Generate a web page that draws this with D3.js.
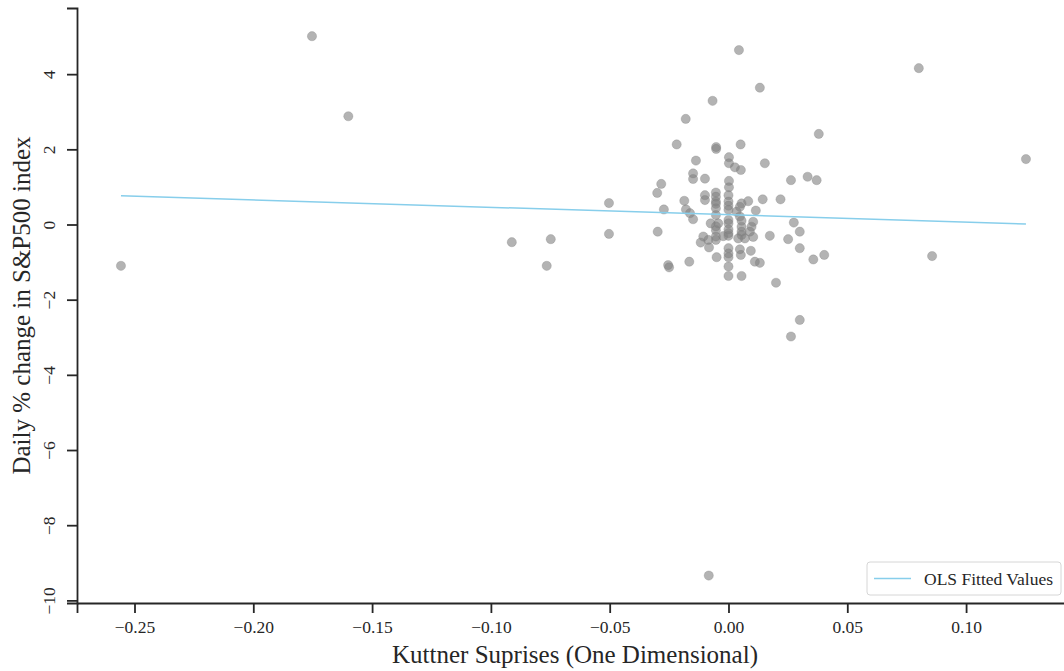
<!DOCTYPE html>
<html lang="en">

<head>
  <title>Kuttner surprises vs S&P500</title>
  <meta charset="UTF-8">
  <script src='https://cdn.jsdelivr.net/npm/d3@7/dist/d3.min.js'></script>
  <style>
    body { margin: 0; background: #fff; }
    svg { display: block; font-family: 'Liberation Serif', 'Times New Roman', serif; }
  </style>
</head>

<body>
  <div id='box'></div>
  <script>
    const width = 1064
    const height = 671
    // plot area (the right edge is cut off by the picture, like the original)
    const area = { left: 77, right: 1073, top: 8, bottom: 603 }

    // data: Kuttner surprise (x) and daily % change in S&P500 (y)
    const kuttner = [
      -0.2557, -0.1753, -0.160, -0.0912, -0.0748, -0.0765, -0.0503, -0.0503, -0.0083, 0.0044, 0.0801, 0.0857, 0.1252,
      0.0132, -0.0067, -0.018, 0.038, -0.0218, -0.0052, -0.0052, 0.0051, -0.0137, 0.0002,
      0.0002, 0.0027, 0.0052, 0.0153, -0.0149, -0.0149, -0.0099, 0.0002, 0.0002, 0.0263,
      0.0333, 0.0371, -0.0283, -0.030, -0.0053, -0.0053, -0.0053, -0.0099, -0.0099, 0.0,
      0.0, 0.0055, 0.0048, 0.0083, 0.0144, 0.0219, -0.0186, -0.0179, -0.0162, -0.0149,
      -0.0272, -0.0053, -0.0053, 0.0, 0.0, 0.0, 0.0034, 0.0048, 0.0115, -0.0075,
      -0.0043, -0.0053, -0.0053, -0.0053, 0.0, 0.0, 0.0055, 0.0055, 0.0055, 0.0104,
      0.0097, 0.009, 0.0275, 0.030, -0.0298, 0.0174, 0.0251, -0.0106, -0.0085, -0.0117,
      -0.0082, -0.0022, 0.0041, 0.0069, 0.0104, 0.030, 0.0, 0.0, 0.0, 0.0048,
      0.0052, 0.0094, -0.005, -0.0165, -0.0254, -0.025, 0.0111, 0.0132, 0.0357, 0.0403,
      0.0, 0.0, 0.0055, 0.020, 0.030, 0.0263,
      -0.0053, 0.0, 0.0055, -0.0053, 0.0
    ]
    const spChange = [
      -1.10, 5.01, 2.88, -0.47, -0.39, -1.10, 0.57, -0.25, -9.34, 4.64, 4.16, -0.84, 1.74,
      3.64, 3.29, 2.81, 2.41, 2.13, 2.06, 2.01, 2.13, 1.70, 1.79,
      1.63, 1.52, 1.45, 1.63, 1.36, 1.21, 1.22, 1.16, 0.99, 1.18,
      1.27, 1.18, 1.08, 0.84, 0.85, 0.74, 0.61, 0.78, 0.65, 0.78,
      0.61, 0.56, 0.47, 0.62, 0.67, 0.67, 0.63, 0.40, 0.30, 0.14,
      0.40, 0.43, 0.25, 0.39, 0.12, 0.03, 0.34, 0.21, 0.37, 0.03,
      0.03, -0.15, -0.32, -0.41, -0.13, -0.23, -0.06, -0.19, -0.28, 0.07,
      -0.06, -0.19, 0.05, -0.19, -0.19, -0.30, -0.39, -0.32, -0.41, -0.48,
      -0.61, -0.31, -0.37, -0.37, -0.33, -0.63, -0.63, -0.77, -0.87, -0.66,
      -0.81, -0.70, -0.87, -0.99, -1.08, -1.14, -0.99, -1.02, -0.93, -0.81,
      -1.12, -1.37, -1.37, -1.55, -2.54, -2.98,
      0.55, 0.50, 0.10, -0.05, -0.30
    ]

    // OLS fit
    const olsIntercept = 0.26
    const olsSlope = -1.97

    // tick values
    const xTicks = [-0.25, -0.20, -0.15, -0.10, -0.05, 0.00, 0.05, 0.10]
    const yTicks = [-10, -8, -6, -4, -2, 0, 2, 4]

    const svg = d3.select('#box').append('svg')
      .attr('width', width)
      .attr('height', height)

    const xScale = d3.scaleLinear().domain([-0.2742, 0.145]).range([area.left, area.right])
    const yScale = d3.scaleLinear().domain([-10.07, 5.76]).range([area.bottom, area.top])

    // scatter points
    const points = kuttner.map((k, i) => ({ x: k, y: spChange[i] }))
    svg.append('g')
      .selectAll('circle')
      .data(points)
      .join('circle')
      .attr('cx', d => xScale(d.x))
      .attr('cy', d => yScale(d.y))
      .attr('r', 4.6)
      .attr('fill', '#808080')
      .attr('fill-opacity', 0.6)
      .attr('stroke', '#808080')
      .attr('stroke-opacity', 0.6)
      .attr('stroke-width', 0.5)

    // fitted line across the range of the data
    const xExtent = d3.extent(kuttner)
    const fitted = xExtent.map(x => ({ x, y: olsIntercept + olsSlope * x }))
    svg.append('path')
      .datum(fitted)
      .attr('fill', 'none')
      .attr('stroke', '#87ceeb')
      .attr('stroke-width', 1.5)
      .attr('d', d3.line().x(d => xScale(d.x)).y(d => yScale(d.y)))

    // x axis
    const xAxis = d3.axisBottom(xScale)
      .tickValues(xTicks)
      .tickFormat(d3.format('.2f'))
      .tickSize(10)
      .tickPadding(8)
    const gx = svg.append('g')
      .attr('transform', `translate(0,${area.bottom})`)
      .call(xAxis)
    gx.select('.domain').attr('stroke', '#262626').attr('stroke-width', 1.8)
    gx.selectAll('.tick line').attr('stroke', '#262626').attr('stroke-width', 1.8)
    gx.selectAll('.tick text')
      .attr('font-family', 'Liberation Serif')
      .attr('font-size', 17.5)
      .attr('fill', '#262626')

    // y axis, labels turned on their side
    const yAxis = d3.axisLeft(yScale)
      .tickValues(yTicks)
      .tickFormat(d3.format('d'))
      .tickSize(10)
    const gy = svg.append('g')
      .attr('transform', `translate(${area.left},0)`)
      .call(yAxis)
    gy.select('.domain').attr('stroke', '#262626').attr('stroke-width', 1.8)
    gy.selectAll('.tick line').attr('stroke', '#262626').attr('stroke-width', 1.8)
    gy.selectAll('.tick text')
      .attr('x', null)
      .attr('dy', null)
      .attr('text-anchor', 'middle')
      .attr('transform', 'translate(-22,0) rotate(-90)')
      .attr('font-family', 'Liberation Serif')
      .attr('font-size', 17.5)
      .attr('fill', '#262626')

    // axis titles
    svg.append('text')
      .attr('x', (area.left + area.right) / 2)
      .attr('y', 663)
      .attr('text-anchor', 'middle')
      .attr('font-size', 25)
      .attr('fill', '#262626')
      .text('Kuttner Suprises (One Dimensional)')

    svg.append('text')
      .attr('transform', `translate(30,${(area.top + area.bottom) / 2}) rotate(-90)`)
      .attr('text-anchor', 'middle')
      .attr('font-size', 25)
      .attr('fill', '#262626')
      .text('Daily % change in S&P500 index')

    // legend, lower right
    const legend = svg.append('g').attr('transform', 'translate(867,562)')
    legend.append('rect')
      .attr('width', 194)
      .attr('height', 33)
      .attr('rx', 3)
      .attr('fill', '#fff')
      .attr('fill-opacity', 0.8)
      .attr('stroke', '#d6d6d6')
    legend.append('line')
      .attr('x1', 7).attr('x2', 44)
      .attr('y1', 16.5).attr('y2', 16.5)
      .attr('stroke', '#87ceeb')
      .attr('stroke-width', 1.5)
    legend.append('text')
      .attr('x', 57)
      .attr('y', 22.5)
      .attr('font-size', 17.5)
      .attr('fill', '#262626')
      .text('OLS Fitted Values')
  </script>
</body>

</html>
